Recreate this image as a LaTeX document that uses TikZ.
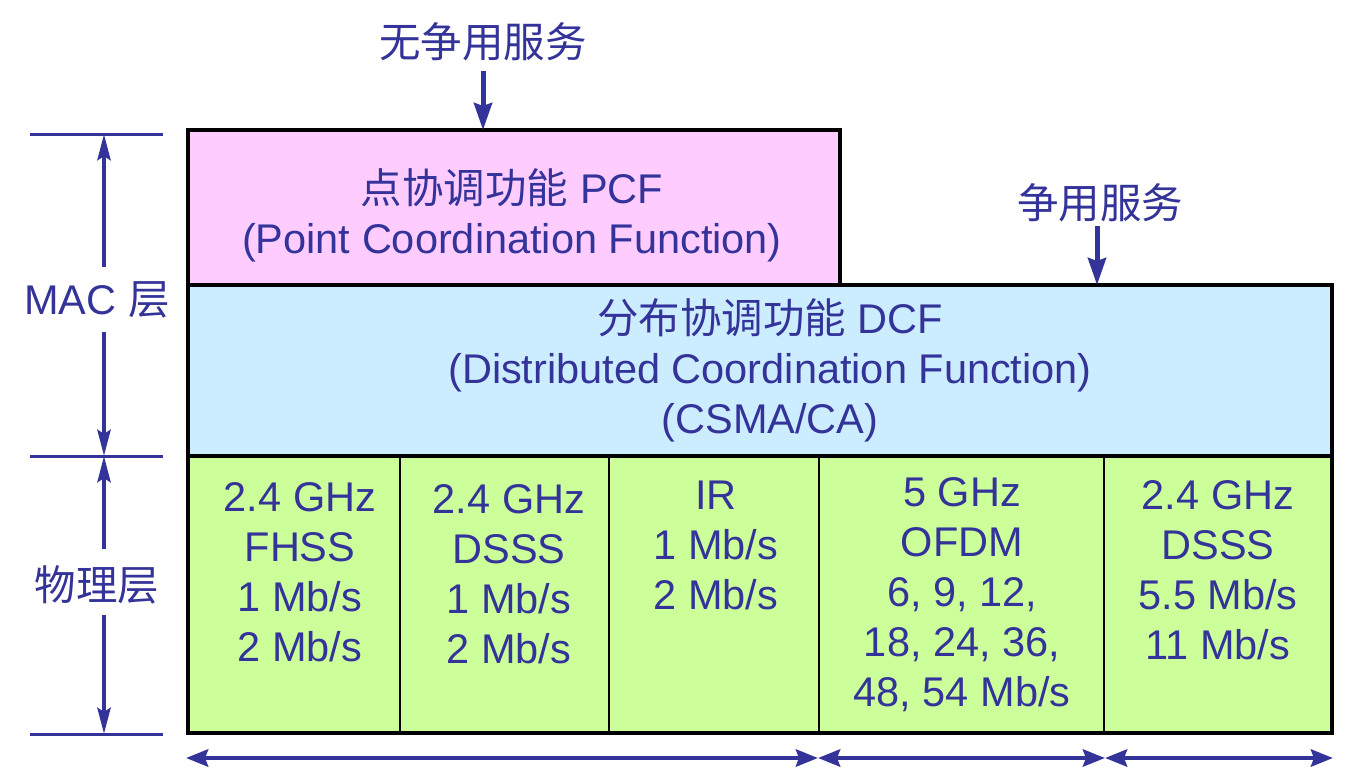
\documentclass[tikz,border=0pt]{standalone}
\usepackage{fontspec}
\setmainfont{Liberation Sans}
\newfontfamily\cjk{Noto Sans CJK SC}
\usetikzlibrary{arrows.meta}
\definecolor{txt}{HTML}{333399}
\definecolor{pcfpink}{HTML}{FFCCFF}
\definecolor{dcfblue}{HTML}{CCECFF}
\definecolor{phygreen}{HTML}{CCFF99}
\begin{document}
\begin{tikzpicture}[x=1pt,y=-1pt,
  lbl/.style={text=txt, font=\fontsize{41.5}{50}\selectfont, align=center, inner sep=0pt},
  boxbase/.style={inner sep=0pt, outer sep=0pt, anchor=north west},
  frame/.style={draw=black, line width=4.5pt},
  divider/.style={draw=black, line width=2.2pt},
  downarr/.style={draw=txt, line width=5pt, -{Stealth[length=27pt,width=18pt,inset=3pt]}},
  dimarr/.style={draw=txt, line width=4.5pt, -{Stealth[length=26pt,width=13pt,inset=4pt]}},
  spanarr/.style={draw=txt, line width=4.5pt, {Stealth[length=22pt,width=17pt,inset=3pt]}-{Stealth[length=22pt,width=17pt,inset=3pt]}},
  tick/.style={draw=txt, line width=3pt}]
\useasboundingbox (0,0) rectangle (1356,782);

% boxes
\node[boxbase, fill=pcfpink, minimum width=652pt, minimum height=155pt] (pcf) at (188,130) {};
\node[boxbase, fill=dcfblue, minimum width=1144pt, minimum height=171pt] (dcf) at (188,285) {};
\node[boxbase, fill=phygreen, divider, minimum width=212pt, minimum height=277pt] (p1) at (188,456) {};
\node[boxbase, fill=phygreen, divider, minimum width=209pt, minimum height=277pt] (p2) at (400,456) {};
\node[boxbase, fill=phygreen, divider, minimum width=210pt, minimum height=277pt] (p3) at (609,456) {};
\node[boxbase, fill=phygreen, divider, minimum width=285pt, minimum height=277pt] (p4) at (819,456) {};
\node[boxbase, fill=phygreen, divider, minimum width=228pt, minimum height=277pt] (p5) at (1104,456) {};
\draw[frame] (pcf.south west) rectangle (pcf.north east);
\draw[frame] (dcf.south west) rectangle (dcf.north east);
\draw[frame] (p1.north west) rectangle (p5.south east);

% texts
\node[lbl] (pcftxt) at (512,215) {{\cjk 点协调功能} PCF\\(Point Coordination Function)};
\node[lbl] (dcftxt) at (770,370) {{\cjk 分布协调功能} DCF\\(Distributed Coordination Function)\\(CSMA/CA)};
\node[lbl] (t1) at (300,572) {2.4 GHz\\FHSS\\1 Mb/s\\2 Mb/s};
\node[lbl] (t2) at (509,574) {2.4 GHz\\DSSS\\1 Mb/s\\2 Mb/s};
\node[lbl] (t3) at (716,545) {IR\\1 Mb/s\\2 Mb/s};
\node[lbl] (t4) at (962,595) {5 GHz\\OFDM\\6, 9, 12,\\18, 24, 36,\\48, 54 Mb/s};
\node[lbl] (t5) at (1218,570) {2.4 GHz\\DSSS\\5.5 Mb/s\\11 Mb/s};

% service arrows
\node[lbl] (nocont) at (483,42) {\cjk 无争用服务};
\node[lbl] (cont) at (1100,203) {\cjk 争用服务};
\draw[downarr, shorten <=10pt] (nocont) -- (nocont |- pcf.north);
\draw[downarr, shorten <=4pt] (cont.south -| 1097,0) -- (1097,285);

% left dimension
\coordinate (tk1l) at (30,134); \coordinate (tk1r) at (163,134);
\coordinate (tk2l) at (30,456); \coordinate (tk2r) at (163,456);
\coordinate (tk3l) at (30,734); \coordinate (tk3r) at (163,734);
\draw[tick] (tk1l) -- (tk1r);
\draw[tick] (tk2l) -- (tk2r);
\draw[tick] (tk3l) -- (tk3r);
\node[lbl] (mac) at (97,300) {MAC {\cjk 层}};
\node[lbl] (phy) at (97,585) {\cjk 物理层};
\coordinate (m1) at (104,267); \coordinate (m2) at (104,332);
\coordinate (f1) at (104,549); \coordinate (f2) at (104,615);
\draw[dimarr] (m1) -- (104,134);
\draw[dimarr] (m2) -- (104,456);
\draw[dimarr] (f1) -- (104,456);
\draw[dimarr] (f2) -- (104,734);

% bottom spans
\coordinate (b0) at (186,758);
\coordinate (b1) at (818,758);
\coordinate (b2) at (1105,758);
\coordinate (b3) at (1333,758);
\draw[spanarr] (b0) -- (b1);
\draw[spanarr] (b1) -- (b2);
\draw[spanarr] (b2) -- (b3);
\end{tikzpicture}
\end{document}
